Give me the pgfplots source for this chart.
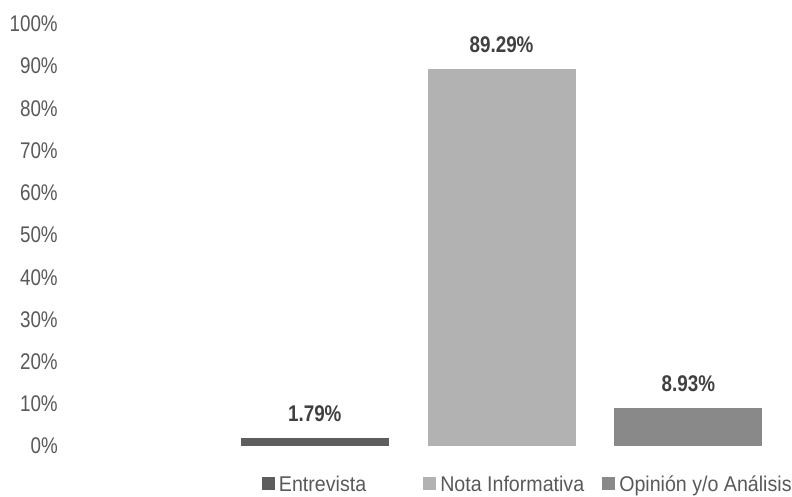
\documentclass[border=0pt]{standalone}
\usepackage{fontspec}
\setmainfont{Liberation Sans}
\newfontfamily\narrowfont{Liberation Sans}[FakeStretch=0.83]
\newfontfamily\legfont{Liberation Sans}[FakeStretch=0.92]
\usepackage{pgfplots}
\pgfplotsset{compat=1.18}
\definecolor{barA}{HTML}{5E5E5E}
\definecolor{barB}{HTML}{B2B2B2}
\definecolor{barC}{HTML}{898989}
\definecolor{ticktxt}{HTML}{595959}
\definecolor{lbltxt}{HTML}{404040}
\begin{document}
\begin{tikzpicture}
\useasboundingbox (0,0) rectangle (594pt,372pt);
\begin{axis}[
  at={(51pt,37.5pt)}, anchor=south west,
  scale only axis, width=535.5pt, height=316.5pt,
  xmin=-1.3215, xmax=2.5017, ymin=0, ymax=100,
  ybar, bar width=111pt, bar shift=0pt,
  axis line style={draw=none}, major tick length=0pt,
  xtick=\empty,
  ytick={0,10,20,30,40,50,60,70,80,90,100},
  yticklabels={0\%,10\%,20\%,30\%,40\%,50\%,60\%,70\%,80\%,90\%,100\%},
  yticklabel style={font=\narrowfont\fontsize{17}{20}\selectfont, text=ticktxt, inner sep=0pt, anchor=east, xshift=-7.5pt},
  point meta=explicit symbolic,
  nodes near coords,
  every node near coord/.append style={font=\narrowfont\bfseries\fontsize{17}{20}\selectfont, text=lbltxt, inner sep=0pt, anchor=south, yshift=12.5pt},
  legend columns=3,
  legend style={draw=none, fill=none, inner sep=0pt, outer sep=0pt,
    at={(0.2717,-0.0924)}, anchor=west,
    font=\legfont\fontsize{16}{19}\selectfont, text=ticktxt,
    nodes={inner sep=0pt},
    /tikz/column 1/.style={column sep=3pt},
    /tikz/column 2/.style={column sep=42.75pt},
    /tikz/column 3/.style={column sep=3pt},
    /tikz/column 4/.style={column sep=13.5pt},
    /tikz/column 5/.style={column sep=3pt}},
  legend image code/.code={\fill (0pt,-4pt) rectangle (9.75pt,5.75pt);},
]
\addplot[fill=barA, draw=none, bar shift=0pt] coordinates {(0,1.79) [1.79\%]};
\addplot[fill=barB, draw=none, bar shift=0pt] coordinates {(1,89.29) [89.29\%]};
\addplot[fill=barC, draw=none, bar shift=0pt] coordinates {(2,8.93) [8.93\%]};
\legend{Entrevista, Nota Informativa, Opinión y/o Análisis}
\end{axis}
\end{tikzpicture}
\end{document}
